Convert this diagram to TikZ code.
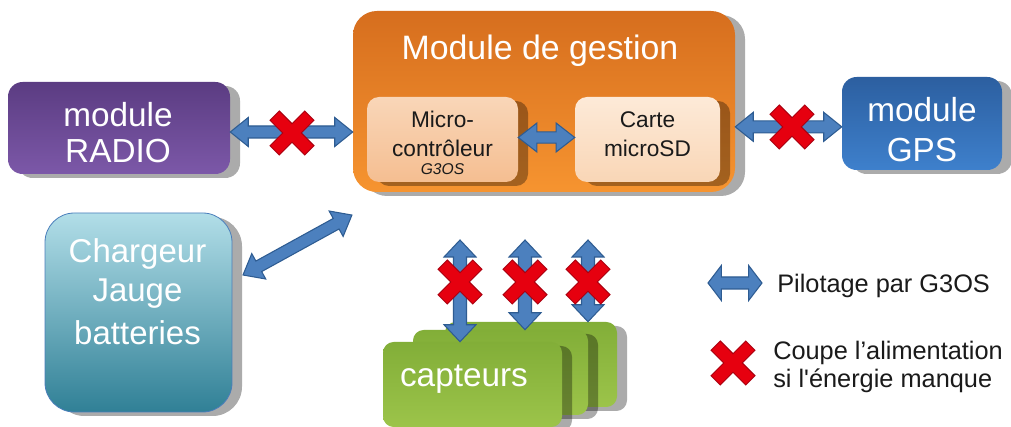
\documentclass[tikz,border=0pt]{standalone}
\usepackage{fontspec}
\setmainfont{Liberation Sans}
\usetikzlibrary{shadows,calc}
\definecolor{orTop}{RGB}{214,110,30}
\definecolor{orBot}{RGB}{246,148,48}
\definecolor{mcTop}{RGB}{249,214,184}
\definecolor{mcBot}{RGB}{245,190,145}
\definecolor{sdTop}{RGB}{253,234,216}
\definecolor{sdBot}{RGB}{249,214,182}
\definecolor{puTop}{RGB}{91,60,130}
\definecolor{puBot}{RGB}{124,88,168}
\definecolor{gpTop}{RGB}{44,95,160}
\definecolor{gpBot}{RGB}{62,128,204}
\definecolor{chTop}{RGB}{178,222,232}
\definecolor{chBot}{RGB}{48,128,150}
\definecolor{chLine}{RGB}{74,126,187}
\definecolor{grTop}{RGB}{130,174,56}
\definecolor{grBot}{RGB}{156,196,74}
\definecolor{arrFill}{RGB}{76,128,190}
\definecolor{arrLine}{RGB}{46,92,146}
\definecolor{xred}{RGB}{230,0,15}
\definecolor{xdark}{RGB}{170,0,16}
\definecolor{txtDark}{RGB}{26,26,26}
\tikzset{
  box/.style={rounded corners=#1, draw=none, inner sep=0pt,
    drop shadow={shadow xshift=7.5pt, shadow yshift=-3pt, fill=black, opacity=0.33}},
  wtxt/.style={text=white, inner sep=0pt, anchor=base, font=\fontsize{25pt}{30pt}\selectfont},
  dtxt/.style={text=txtDark, inner sep=0pt, anchor=base, font=\fontsize{17pt}{20pt}\selectfont},
  legtxt/.style={text=txtDark, inner sep=0pt, anchor=base west, font=\fontsize{19pt}{22pt}\selectfont},
  arrstyle/.style={fill=arrFill, draw=arrLine, line width=0.8pt, line join=miter},
  redx/.pic={
    \draw[xdark, line width=1.6pt, rotate=45] (-24,-6) rectangle (24,6);
    \draw[xdark, line width=1.6pt, rotate=-45] (-24,-6) rectangle (24,6);
    \fill[xred, rotate=45] (-24,-6) rectangle (24,6);
    \fill[xred, rotate=-45] (-24,-6) rectangle (24,6);
  }
}
% \blockarrow{from}{to}{head width}{shaft width}{head length}
\newcommand\blockarrow[5]{%
  \path #1 coordinate (baS) #2 coordinate (baE);
  \pgfpointdiff{\pgfpointanchor{baS}{center}}{\pgfpointanchor{baE}{center}}%
  \pgfgetlastxy{\arDx}{\arDy}%
  \pgfmathsetmacro\arLen{veclen(\arDx,\arDy)}%
  \pgfmathsetmacro\arAng{atan2(\arDy,\arDx)}%
  \begin{scope}[shift={(baS)}, rotate=\arAng]
    \filldraw[arrstyle]
      (0pt,0pt) -- (#5,{#3/2}) -- (#5,{#4/2}) -- ({\arLen pt-#5},{#4/2})
      -- ({\arLen pt-#5},{#3/2}) -- ({\arLen pt},0pt) -- ({\arLen pt-#5},{-#3/2})
      -- ({\arLen pt-#5},{-#4/2}) -- (#5,{-#4/2}) -- (#5,{-#3/2}) -- cycle;
  \end{scope}}
\begin{document}
\begin{tikzpicture}[x=0.75pt,y=-0.75pt]
\useasboundingbox[fill=white] (0,0) rectangle (1011,427);
% management module
\node[box=18pt, top color=orTop, bottom color=orBot, minimum width=286.5pt, minimum height=135.75pt] (gest) at (544,101.5) {};
\node[wtxt, font=\fontsize{25.4pt}{30pt}\selectfont] (gtitle) at (540,60) {Module de gestion};
\node[box=9pt, top color=mcTop, bottom color=mcBot, minimum width=113.25pt, minimum height=63.75pt] (micro) at (442.5,139.5) {};
\node[dtxt] (mc1) at (442.5,128) {Micro-};
\node[dtxt] (mc2) at (442.5,157) {contrôleur};
\node[dtxt, font=\fontsize{11.7pt}{14pt}\selectfont\itshape] (mc3) at (442.5,175) {G3OS};
\node[box=9pt, top color=sdTop, bottom color=sdBot, minimum width=108.75pt, minimum height=63.75pt] (carte) at (647.5,139.5) {};
\node[dtxt] (sd1) at (647.5,128) {Carte};
\node[dtxt] (sd2) at (647.5,157) {microSD};
% radio
\node[box=11pt, top color=puTop, bottom color=puBot, minimum width=166.5pt, minimum height=69pt] (radio) at (119,128) {};
\node[wtxt] (r1) at (118,127) {module};
\node[wtxt] (r2) at (118,163) {RADIO};
% gps
\node[box=11pt, top color=gpTop, bottom color=gpBot, minimum width=120pt, minimum height=69.75pt] (gps) at (922,123.5) {};
\node[wtxt] (g1) at (922,122) {module};
\node[wtxt] (g2) at (922,162) {GPS};
% chargeur
\node[box=22pt, top color=chTop, bottom color=chBot, draw=chLine, line width=0.6pt, minimum width=140.25pt, minimum height=149.25pt] (charg) at (138.5,312.5) {};
\node[wtxt, font=\fontsize{24.75pt}{30pt}\selectfont] (c1) at (137.5,263) {Chargeur};
\node[wtxt, font=\fontsize{24.75pt}{30pt}\selectfont] (c2) at (137.5,302) {Jauge};
\node[wtxt, font=\fontsize{24.75pt}{30pt}\selectfont] (c3) at (137.5,345) {batteries};
% capteurs
\node[box=8pt, top color=grTop, bottom color=grBot, minimum width=129pt, minimum height=63.75pt] (capB) at (531,364.5) {};
\node[box=8pt, top color=grTop, bottom color=grBot, minimum width=131.25pt, minimum height=63.75pt] (capM) at (500.5,372.5) {};
\node[box=8pt, top color=grTop, bottom color=grBot, minimum width=134.25pt, minimum height=63.75pt] (capF) at (472.5,384.5) {};
\node[wtxt] (cap) at (464,387) {capteurs};
% arrows
\blockarrow{([yshift=-3pt]radio.east)}{([yshift=-3pt]radio.east -| gest.west)}{21.75pt}{9pt}{13.5pt}
\blockarrow{([yshift=-2.5pt]gps.west -| gest.east)}{([yshift=-2.5pt]gps.west)}{21.75pt}{9pt}{13.5pt}
\blockarrow{([yshift=1.5pt]micro.east)}{([yshift=1.5pt]micro.east -| carte.west)}{21.75pt}{8.5pt}{14pt}
\coordinate (d1) at (243,275);
\coordinate (d2) at (352,215);
\blockarrow{(d1)}{(d2)}{21.75pt}{9pt}{13.5pt}
\coordinate (v1) at (460,240);
\coordinate (v2) at (525,240);
\coordinate (v3) at (588,240);
\blockarrow{(v1)}{(v1 |- capF.north)}{24pt}{9.75pt}{12.75pt}
\blockarrow{(v2)}{(v2 |- capM.north)}{24pt}{9.75pt}{12.75pt}
\blockarrow{(v3)}{(v3 |- capB.north)}{24pt}{9.75pt}{12.75pt}
% crosses
\pic (xr) at (292,133) {redx};
\pic (xg) at (792,127) {redx};
\pic (xc1) at (460,282) {redx};
\pic (xc2) at (525,282) {redx};
\pic (xc3) at (588,282) {redx};
% legend
\coordinate (l1) at (708,283);
\coordinate (l2) at (762,283);
\blockarrow{(l1)}{(l2)}{26.25pt}{9pt}{10pt}
\node[legtxt] (lt1) at (777,293) {Pilotage par G3OS};
\pic (xl) at (733,363) {redx};
\node[legtxt] (lt2) at (773,360) {Coupe l’alimentation};
\node[legtxt] (lt3) at (773,388) {si l\textquotesingle énergie manque};
\end{tikzpicture}
\end{document}
